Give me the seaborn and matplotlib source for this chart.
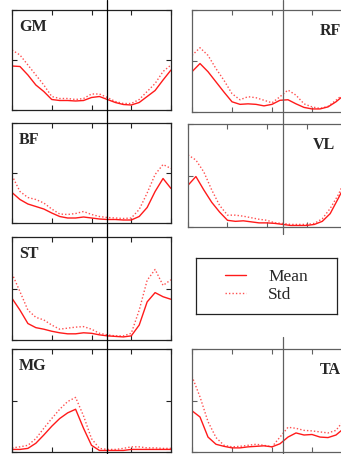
import numpy as np
import pandas as pd
import matplotlib
matplotlib.use("Agg")
import matplotlib.pyplot as plt
import matplotlib.lines as mlines
import seaborn as sns

# gait cycle (%) sampled every 5 %
cycle = [0, 5, 10, 15, 20, 25, 30, 35, 40, 45, 50,
         55, 60, 65, 70, 75, 80, 85, 90, 95, 100]

gm_mean = [0.88, 0.87, 0.70, 0.50, 0.37, 0.21, 0.19, 0.19, 0.18, 0.19, 0.25,
           0.27, 0.21, 0.15, 0.11, 0.10, 0.15, 0.27, 0.39, 0.60, 0.80]
gm_std = [1.20, 1.10, 0.90, 0.70, 0.50, 0.27, 0.23, 0.23, 0.21, 0.23, 0.32,
          0.32, 0.25, 0.17, 0.13, 0.13, 0.21, 0.37, 0.53, 0.77, 0.90]

rf_mean = [0.79, 0.95, 0.79, 0.59, 0.39, 0.20, 0.15, 0.16, 0.15, 0.12, 0.15,
           0.23, 0.24, 0.16, 0.09, 0.06, 0.06, 0.10, 0.20, 0.33, 0.50]
rf_std = [1.11, 1.26, 1.11, 0.85, 0.62, 0.36, 0.24, 0.30, 0.28, 0.23, 0.18,
          0.30, 0.43, 0.33, 0.16, 0.10, 0.07, 0.11, 0.23, 0.36, 0.50]

bf_mean = [0.61, 0.47, 0.38, 0.33, 0.28, 0.20, 0.13, 0.10, 0.10, 0.12, 0.10,
           0.08, 0.07, 0.07, 0.06, 0.06, 0.13, 0.31, 0.63, 0.89, 0.69]
bf_std = [0.95, 0.63, 0.51, 0.47, 0.40, 0.28, 0.18, 0.17, 0.19, 0.23, 0.17,
          0.13, 0.11, 0.10, 0.09, 0.10, 0.27, 0.60, 0.97, 1.17, 1.09]

vl_mean = [0.81, 0.98, 0.72, 0.48, 0.29, 0.13, 0.11, 0.12, 0.10, 0.08, 0.08,
           0.07, 0.05, 0.03, 0.03, 0.03, 0.05, 0.11, 0.26, 0.55, 0.85]
vl_std = [1.40, 1.30, 1.07, 0.72, 0.42, 0.23, 0.23, 0.21, 0.18, 0.15, 0.13,
          0.08, 0.07, 0.05, 0.05, 0.05, 0.07, 0.16, 0.36, 0.62, 0.95]

st_mean = [0.81, 0.58, 0.32, 0.24, 0.21, 0.17, 0.14, 0.12, 0.12, 0.14, 0.13,
           0.10, 0.08, 0.07, 0.06, 0.08, 0.29, 0.74, 0.92, 0.84, 0.79]
st_std = [1.29, 0.94, 0.58, 0.44, 0.39, 0.29, 0.21, 0.23, 0.25, 0.26, 0.21,
          0.13, 0.10, 0.08, 0.08, 0.13, 0.58, 1.16, 1.37, 1.06, 1.17]

mg_mean = [0.05, 0.05, 0.07, 0.17, 0.33, 0.50, 0.65, 0.76, 0.83, 0.46, 0.13,
           0.03, 0.03, 0.03, 0.03, 0.05, 0.05, 0.05, 0.05, 0.05, 0.05]
mg_std = [0.08, 0.10, 0.13, 0.26, 0.46, 0.65, 0.83, 0.98, 1.06, 0.70, 0.26,
          0.07, 0.05, 0.05, 0.07, 0.10, 0.10, 0.08, 0.08, 0.07, 0.07]

ta_mean = [0.80, 0.68, 0.29, 0.15, 0.11, 0.08, 0.08, 0.10, 0.11, 0.12, 0.10,
           0.16, 0.29, 0.37, 0.33, 0.34, 0.29, 0.28, 0.33, 0.46, 0.60]
ta_std = [1.47, 1.07, 0.59, 0.28, 0.13, 0.10, 0.11, 0.13, 0.15, 0.13, 0.10,
          0.29, 0.48, 0.46, 0.42, 0.41, 0.39, 0.37, 0.42, 0.62, 0.80]

W, H = 341, 454


def px_box(x0, y0, x1, y1):
    """pixel box (top-left origin) -> figure fraction rect"""
    return [x0 / W, (H - y1) / H, (x1 - x0) / W, (y1 - y0) / H]


# muscle, mean, std, axes box in pixels, label side, frame colour
panels = [
    ("GM", gm_mean, gm_std, (12, 10, 171, 110), "left", "#222222"),
    ("RF", rf_mean, rf_std, (192, 10, 352, 112), "right", "#606060"),
    ("BF", bf_mean, bf_std, (12, 123, 171, 223), "left", "#222222"),
    ("VL", vl_mean, vl_std, (188, 124, 346, 227), "right", "#606060"),
    ("ST", st_mean, st_std, (12, 237, 171, 340), "left", "#222222"),
    ("MG", mg_mean, mg_std, (12, 349, 171, 452), "left", "#222222"),
    ("TA", ta_mean, ta_std, (192, 349, 352, 452), "right", "#606060"),
]

sns.set_theme(style="white")
plt.rcParams["font.family"] = ["Liberation Serif", "DejaVu Serif"]

fig = plt.figure(figsize=(W / 100, H / 100), dpi=100)

for name, mean, std, box, side, fc in panels:
    ax = fig.add_axes(px_box(*box))
    df = pd.DataFrame({"cycle": cycle, "mean": mean, "std": std})
    sns.lineplot(data=df, x="cycle", y="std", ax=ax, color="#ff5050",
                 linewidth=1.0, linestyle=(0, (1, 1.5)))
    sns.lineplot(data=df, x="cycle", y="mean", ax=ax, color="#ff1a1a",
                 linewidth=1.0)
    ax.set_xlim(0, 100)
    ax.set_ylim(0, 2)
    ax.set_xticks([0, 25, 50, 75, 100])
    ax.set_yticks([0, 1, 2])
    ax.set_xticklabels([])
    ax.set_yticklabels([])
    ax.set_xlabel("")
    ax.set_ylabel("")
    ax.tick_params(direction="in", length=3.5, width=0.8, top=True, right=True,
                   bottom=True, left=True, color=fc)
    for sp in ax.spines.values():
        sp.set_color(fc)
        sp.set_linewidth(0.9)
    if side == "left":
        ax.text(0.045, 0.91, name, transform=ax.transAxes, ha="left", va="top",
                fontsize=11.5, fontweight="bold")
    else:
        ax.text(0.93, 0.87, name, transform=ax.transAxes, ha="right", va="top",
                fontsize=11.5, fontweight="bold")

# toe-off marker lines across the figure
fig.add_artist(mlines.Line2D([107 / W, 107 / W], [0, 1], color="black",
                             linewidth=0.9, transform=fig.transFigure))
fig.add_artist(mlines.Line2D([283 / W, 283 / W], [(H - 234) / H, 1],
                             color="#606060", linewidth=0.9,
                             transform=fig.transFigure))
fig.add_artist(mlines.Line2D([283 / W, 283 / W], [0, (H - 337) / H],
                             color="#606060", linewidth=0.9,
                             transform=fig.transFigure))

# legend box
lax = fig.add_axes(px_box(196, 258, 337, 314))
lax.set_xticks([])
lax.set_yticks([])
for sp in lax.spines.values():
    sp.set_color("#222222")
    sp.set_linewidth(0.9)
h_mean = mlines.Line2D([], [], color="#ff1a1a", linewidth=1.0)
h_std = mlines.Line2D([], [], color="#ff5050", linewidth=1.0,
                      linestyle=(0, (1, 1.5)))
lax.legend([h_mean, h_std], ["Mean", "Std"], loc="center", frameon=False,
           fontsize=12.5, handlelength=1.2, handletextpad=1.3,
           labelspacing=0.1, borderpad=0.2)

fig.savefig("out.png", dpi=100)
